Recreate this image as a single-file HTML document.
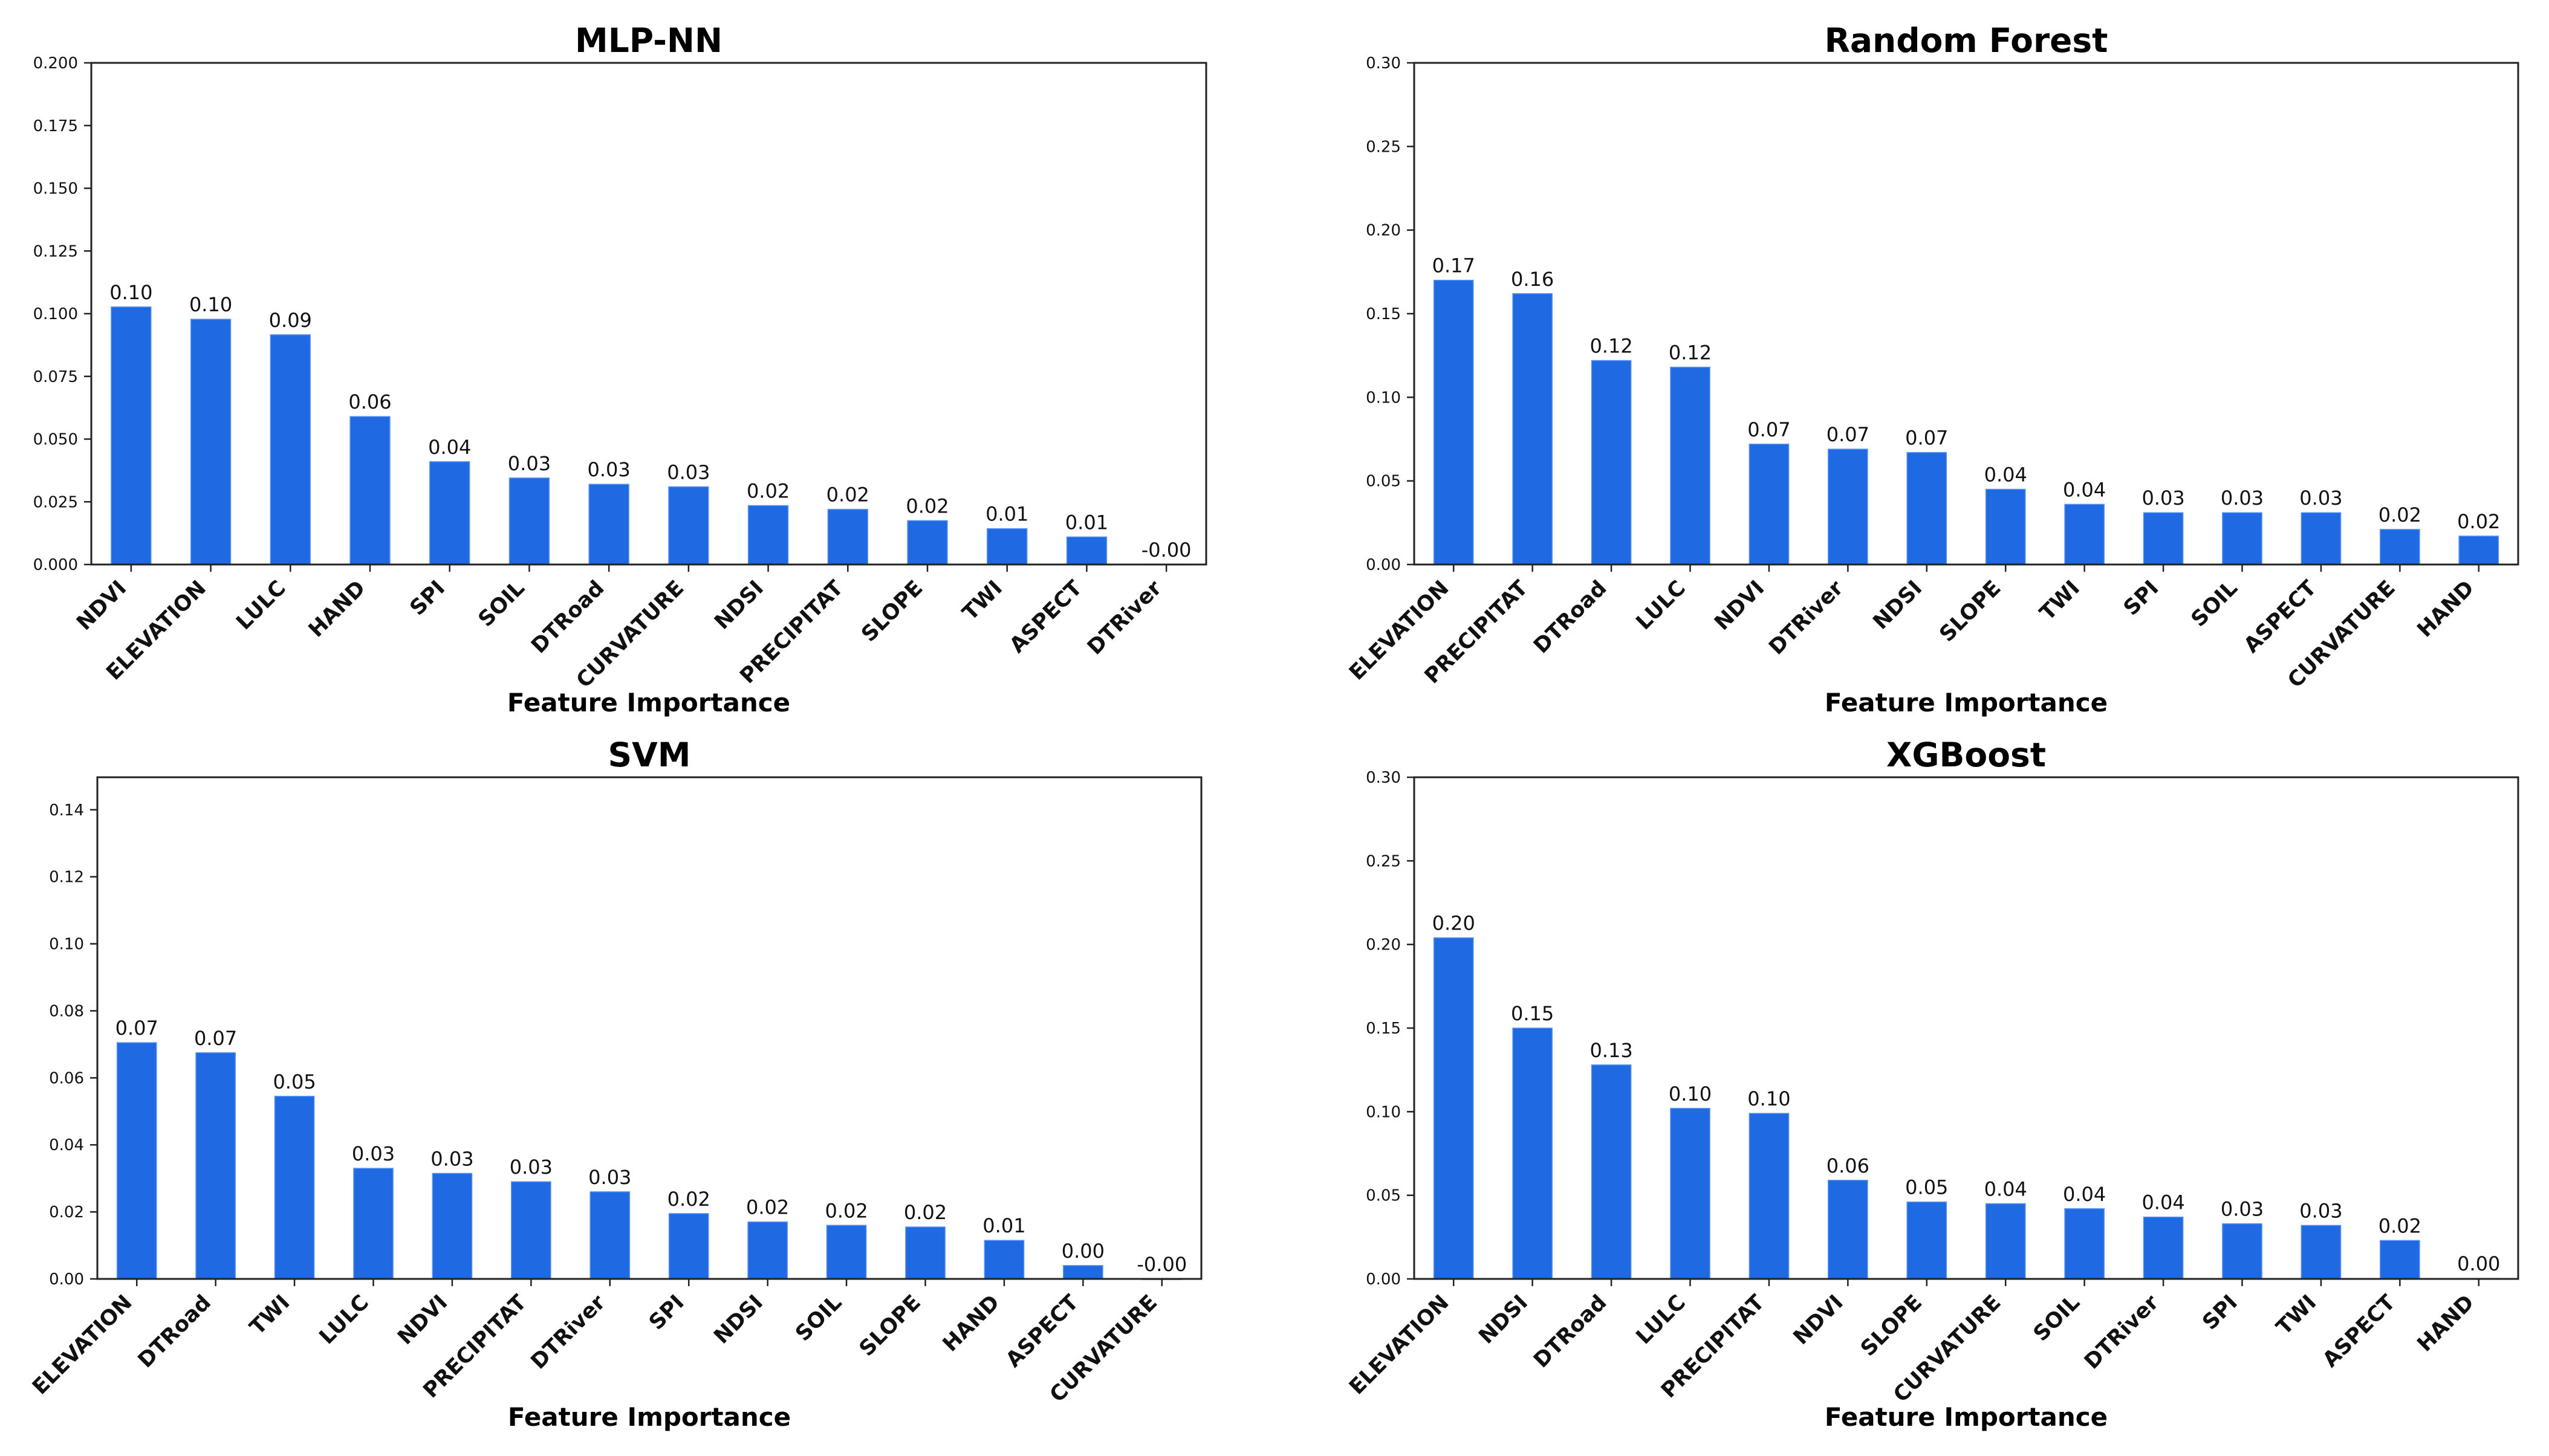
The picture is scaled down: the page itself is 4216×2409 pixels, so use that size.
<!DOCTYPE html>
<html><head><meta charset="utf-8"><style>
html,body{margin:0;padding:0;background:#fff;}
svg{display:block;font-family:"DejaVu Sans","Liberation Sans",sans-serif;}
</style></head><body>
<svg id="fig" width="4216" height="2409" viewBox="0 0 4216 2409" xmlns="http://www.w3.org/2000/svg"></svg>
<script>
// ---- MLP-NN ----
const mlpCategories = ["NDVI","ELEVATION","LULC","HAND","SPI","SOIL","DTRoad","CURVATURE","NDSI","PRECIPITAT","SLOPE","TWI","ASPECT","DTRiver"];
const mlpValues = [0.1027,0.0978,0.0916,0.059,0.041,0.0345,0.032,0.031,0.0235,0.022,0.0175,0.0143,0.011,-0.0002];
const mlpTicks = [0,0.025,0.05,0.075,0.1,0.125,0.15,0.175,0.2];
const mlpTickLabels = ["0.000","0.025","0.050","0.075","0.100","0.125","0.150","0.175","0.200"];
// ---- Random Forest ----
const rfCategories = ["ELEVATION","PRECIPITAT","DTRoad","LULC","NDVI","DTRiver","NDSI","SLOPE","TWI","SPI","SOIL","ASPECT","CURVATURE","HAND"];
const rfValues = [0.170,0.162,0.122,0.118,0.072,0.069,0.067,0.045,0.036,0.031,0.031,0.031,0.021,0.017];
const rfTicks = [0,0.05,0.1,0.15,0.2,0.25,0.3];
const rfTickLabels = ["0.00","0.05","0.10","0.15","0.20","0.25","0.30"];
// ---- SVM ----
const svmCategories = ["ELEVATION","DTRoad","TWI","LULC","NDVI","PRECIPITAT","DTRiver","SPI","NDSI","SOIL","SLOPE","HAND","ASPECT","CURVATURE"];
const svmValues = [0.0705,0.0675,0.0545,0.033,0.0315,0.029,0.026,0.0195,0.017,0.016,0.0155,0.0115,0.004,-0.0002];
const svmTicks = [0,0.02,0.04,0.06,0.08,0.1,0.12,0.14];
const svmTickLabels = ["0.00","0.02","0.04","0.06","0.08","0.10","0.12","0.14"];
// ---- XGBoost ----
const xgbCategories = ["ELEVATION","NDSI","DTRoad","LULC","PRECIPITAT","NDVI","SLOPE","CURVATURE","SOIL","DTRiver","SPI","TWI","ASPECT","HAND"];
const xgbValues = [0.204,0.150,0.128,0.102,0.099,0.059,0.046,0.045,0.042,0.037,0.033,0.032,0.023,0.0003];
const xgbTicks = [0,0.05,0.1,0.15,0.2,0.25,0.3];
const xgbTickLabels = ["0.00","0.05","0.10","0.15","0.20","0.25","0.30"];

const NS="http://www.w3.org/2000/svg";
const svg=document.getElementById('fig');
function mk(tag,attrs,parent){const e=document.createElementNS(NS,tag);for(const k in attrs)e.setAttribute(k,attrs[k]);(parent||svg).appendChild(e);return e;}

function chart(key,title,cats,vals,ticks,tickLabels,ymax,L,R,T,B,titleY,xlabY){
  const g=mk('g',{});
  
  
  const n=cats.length, slot=(R-L)/n;
  const xS=i=>L+(i+0.5)*slot;
  const yS=v=>B-(v/ymax)*(B-T);
  vals.forEach((v,i)=>{
    const y0=yS(Math.max(v,0)), y1=yS(Math.min(v,0));
    const r=mk('rect',{x:xS(i)-slot*0.25,y:y0,width:slot*0.5,height:Math.max(y1-y0,0),fill:'#1f69e3',stroke:'#5b93f0','stroke-width':1.5},g);
    
    
    const t=mk('text',{x:xS(i),y:yS(Math.max(v,0))-13,'text-anchor':'middle','font-size':32,fill:'#111'},g);
    t.textContent=(Math.abs(v)<0.005&&v<0?'-':'')+Math.abs(v).toFixed(2);
    
    
    mk('line',{x1:xS(i),x2:xS(i),y1:B,y2:B+12,stroke:'#222','stroke-width':2.5},g);
    const c=mk('text',{x:0,y:0,'text-anchor':'end','font-size':35,'font-weight':'bold',fill:'#111',transform:`translate(${xS(i)-6},${B+41}) rotate(-45)`},g);
    c.textContent=cats[i];
    
    
  });
  ticks.forEach((tv,i)=>{
    const y=yS(tv);
    mk('line',{x1:L-12,x2:L,y1:y,y2:y,stroke:'#222','stroke-width':2.5},g);
    const t=mk('text',{x:L-22,y:y+9,'text-anchor':'end','font-size':26,fill:'#111'},g);
    t.textContent=tickLabels[i];
    
    
  });
  const fr=mk('rect',{x:L,y:T,width:R-L,height:B-T,fill:'none',stroke:'#222','stroke-width':3},g);
  
  
  const tt=mk('text',{x:(L+R)/2,y:titleY,'text-anchor':'middle','font-size':55,'font-weight':'bold',fill:'#000'},g);
  tt.textContent=title;
  
  
  const xl=mk('text',{x:(L+R)/2,y:xlabY,'text-anchor':'middle','font-size':42,'font-weight':'bold',fill:'#000'},g);
  xl.textContent='Feature Importance';
  
  
}
chart('mlp-nn','MLP-NN',mlpCategories,mlpValues,mlpTicks,mlpTickLabels,0.2,151,1995,104,934,86,1177);
chart('random-forest','Random Forest',rfCategories,rfValues,rfTicks,rfTickLabels,0.3,2339,4165,104,934,86,1177);
chart('svm','SVM',svmCategories,svmValues,svmTicks,svmTickLabels,0.1497,161,1987,1286,2116,1268,2359);
chart('xgboost','XGBoost',xgbCategories,xgbValues,xgbTicks,xgbTickLabels,0.3,2339,4165,1286,2116,1268,2359);
</script>
</body></html>
